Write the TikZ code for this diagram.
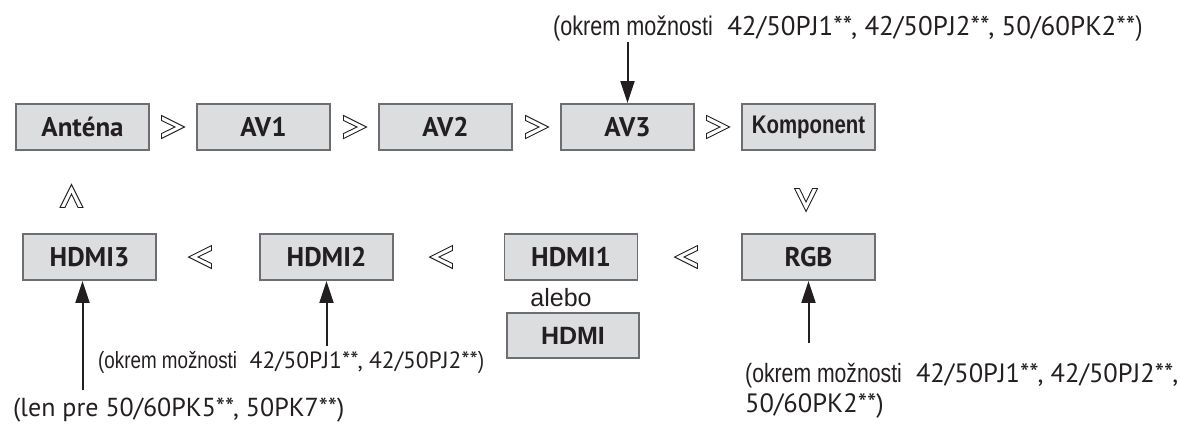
\documentclass[tikz,border=0pt]{standalone}
\usepackage{fontspec}
\setmainfont{PT Sans}
\newfontfamily\helvfont{Liberation Sans}
\newfontfamily\condfont[FakeStretch=0.8]{Liberation Sans}
\usetikzlibrary{arrows.meta}
\definecolor{boxfill}{HTML}{DCDDDF}
\definecolor{boxline}{HTML}{6D6E71}
\definecolor{ink}{HTML}{231F20}

\begin{document}
\begin{tikzpicture}[
  x=1pt, y=-1pt,
  srcbox/.style={
    draw=boxline, line width=1.8pt, fill=boxfill, text=ink,
    minimum width=133pt, minimum height=46pt, inner sep=0pt,
    font=\fontsize{27}{30}\selectfont\bfseries
  },
  note/.style={anchor=west, inner sep=0pt, text=ink, align=left,
    font=\fontsize{26}{30}\selectfont},
  arr/.style={-{Triangle[length=22pt,width=14pt]}, line width=2pt, ink},
  pics/chev/.style={code={
    \draw[ink, line width=0.9pt, fill=white]
      (-11.5,11.5) -- (11.5,0) -- (-11.5,-11.5) -- (-11.5,-6.5) -- (2,0) -- (-11.5,6.5) -- cycle;
  }}
]
  \useasboundingbox (0,0) rectangle (1180,423);

  % top row
  \foreach \n/\x/\lbl in
    {ant/82.5/Anténa, av1/263.5/AV1, av2/445.5/AV2, av3/627.5/AV3,
     komp/808.5/{\fontsize{25.5}{28}\selectfont\condfont\bfseries Komponent}}
  {
    \node[srcbox] (\n) at (\x,127) {\lbl};
  }
  \foreach \x in {173,355,537,718}
    \pic at (\x,127) {chev};

  % bottom row
  \foreach \n/\x/\lbl in
    {h3/89.5/HDMI3, h2/326.5/HDMI2, h1/571/HDMI1, rgb/808.5/RGB}
  {
    \node[srcbox] (\n) at (\x,257) {\lbl};
  }
  \foreach \x in {200,441,686}
    \pic[rotate=180] at (\x,257) {chev};
  \pic[rotate=90]  at (71.5,196) {chev};
  \pic[rotate=-90] at (806,200) {chev};

  \node[font=\fontsize{25}{30}\selectfont\helvfont, text=ink, inner sep=0pt]
    (alebo) at (561,298) {alebo};
  \node[srcbox, minimum width=132pt, minimum height=45pt,
    font=\fontsize{25}{28}\selectfont\helvfont\bfseries] (hdmi) at (573,335.5) {HDMI};

  % notes
  \node[note, font=\fontsize{27}{30}\selectfont] (ntop) at (553,28)
    {{\condfont (okrem možnosti}\ \ 42/50PJ1**, 42/50PJ2**, 50/60PK2**{\condfont )}};
  \node[note, font=\fontsize{23.5}{28}\selectfont] (nh2) at (98,362)
    {{\condfont (okrem možnosti}\ \ 42/50PJ1**, 42/50PJ2**{\condfont )}};
  \node[note] (nh3) at (13,410) {(len pre 50/60PK5**, 50PK7**)};
  \node[note, font=\fontsize{26.5}{30}\selectfont] (nrgb) at (745,391)
    {{\condfont (okrem možnosti}\ \ 42/50PJ1**, 42/50PJ2**,\\50/60PK2**)};

  \coordinate (av3in) at (627.5,42);
  \coordinate (h2in) at (326.5,346);
  \coordinate (h3in) at (82.5,390);
  \coordinate (rgbin) at (808.5,343);
  \draw[arr] (av3in) -- (av3.north);
  \draw[arr] (h2in) -- (h2.south);
  \draw[arr] (h3in) -- (h3in |- h3.south);
  \draw[arr] (rgbin) -- (rgb.south);
\end{tikzpicture}
\end{document}
